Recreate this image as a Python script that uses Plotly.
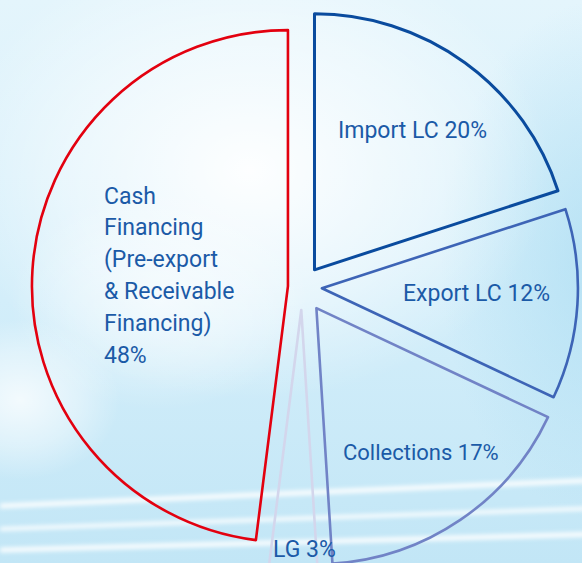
import base64
import plotly.graph_objects as go

# ---- data ----
labels = ["Import LC", "Export LC", "Collections", "LG",
          "Cash<br>Financing<br>(Pre-export<br>& Receivable<br>Financing)"]
values = [20, 12, 17, 3, 48]
line_colors = ["#0a4b9e", "#3d64b6", "#7183c6", "#d3d6ec", "#e3000f"]
line_widths = [3, 2.6, 2.6, 2.6, 2.6]
pulls = [0.083, 0.078, 0.1, 0.09, 0.055]

# figure is a bit larger than the 582x563 window; the window crops it
FW, FH = 600, 600
TEXT_COLOR = "#1b5aa7"
FONT = "Roboto"

# pie centre / radius in pixels
CX, CY, R = 302, 287, 256
half = R * (1 + max(pulls))


def px_x(x):
    return x / FW


def px_y(y):
    return 1 - y / FH


# ---- background (SVG gradient image) ----
svg = f'''<svg xmlns="http://www.w3.org/2000/svg" width="{FW}" height="{FH}" viewBox="0 0 {FW} {FH}">
<defs>
<linearGradient id="base" x1="0" y1="0" x2="0" y2="1">
<stop offset="0" stop-color="#e4f5fc"/>
<stop offset="0.5" stop-color="#d3eefa"/>
<stop offset="0.94" stop-color="#c2e6f6"/>
<stop offset="1" stop-color="#c2e6f6"/>
</linearGradient>
<radialGradient id="glow1" cx="0.5" cy="0.5" r="0.5">
<stop offset="0" stop-color="#ffffff" stop-opacity="0.95"/>
<stop offset="0.6" stop-color="#ffffff" stop-opacity="0.45"/>
<stop offset="1" stop-color="#ffffff" stop-opacity="0"/>
</radialGradient>
<radialGradient id="blue1" cx="0.5" cy="0.5" r="0.5">
<stop offset="0" stop-color="#a9dcf2" stop-opacity="0.7"/>
<stop offset="1" stop-color="#a9dcf2" stop-opacity="0"/>
</radialGradient>
<filter id="blur"><feGaussianBlur stdDeviation="2.2"/></filter>
</defs>
<rect width="{FW}" height="{FH}" fill="url(#base)"/>
<ellipse cx="600" cy="260" rx="160" ry="260" fill="url(#blue1)"/>
<ellipse cx="250" cy="170" rx="300" ry="230" fill="url(#glow1)"/>
<ellipse cx="20" cy="400" rx="100" ry="80" fill="url(#glow1)" opacity="0.8"/>
<ellipse cx="160" cy="300" rx="150" ry="110" fill="url(#glow1)" opacity="0.6"/>
<g filter="url(#blur)" stroke="#ffffff" stroke-opacity="0.9" fill="none">
<path d="M0 506 L600 480" stroke-width="5"/>
<path d="M0 529 L600 508" stroke-width="4"/>
<path d="M0 550 L600 534" stroke-width="5"/>
</g>
</svg>'''
bg_src = "data:image/svg+xml;base64," + base64.b64encode(svg.encode()).decode()

fig = go.Figure()
fig.add_trace(go.Pie(
    labels=labels,
    values=values,
    sort=False,
    direction="clockwise",
    rotation=0,
    pull=pulls,
    textinfo="none",
    hoverinfo="label+percent",
    marker=dict(colors=["rgba(0,0,0,0)"] * len(values),
                line=dict(color=line_colors, width=line_widths)),
    domain=dict(x=[px_x(CX - half), px_x(CX + half)],
                y=[px_y(CY + half), px_y(CY - half)]),
    showlegend=False,
))

# ---- labels as annotations (text built from the data) ----
total = sum(values)
pct = [f"{round(v * 100 / total)}%" for v in values]
label_pos = {  # pixel centres of the single-line labels
    0: (412, 131),
    1: (476, 293),
    2: (421, 452),
    3: (304, 549),
}
label_sizes = {0: 23, 1: 23, 2: 22, 3: 23}
annotations = []
for i, (x, y) in label_pos.items():
    annotations.append(dict(
        x=px_x(x), y=px_y(y), xref="paper", yref="paper",
        text=f"{labels[i]} {pct[i]}", showarrow=False,
        xanchor="center", yanchor="middle",
        font=dict(family=FONT, size=label_sizes[i], color=TEXT_COLOR)))
cash_lines = labels[4].split("<br>") + [pct[4]]
for k, line in enumerate(cash_lines):
    annotations.append(dict(
        x=px_x(102), y=px_y(196 + 31.8 * k), xref="paper", yref="paper",
        text=line, showarrow=False, xanchor="left", yanchor="middle",
        font=dict(family=FONT, size=23, color=TEXT_COLOR)))

fig.update_layout(
    width=FW, height=FH,
    margin=dict(l=0, r=0, t=0, b=0),
    paper_bgcolor="#d3eefa",
    plot_bgcolor="rgba(0,0,0,0)",
    images=[dict(source=bg_src, xref="paper", yref="paper", x=0, y=1,
                 sizex=1, sizey=1, sizing="stretch", layer="below",
                 xanchor="left", yanchor="top")],
    annotations=annotations,
)

fig.write_html(
    "out.html",
    config={"displayModeBar": False},
    post_script="document.body.style.margin='0';"
                "document.body.style.overflow='hidden';"
                "document.documentElement.style.overflow='hidden';",
)
